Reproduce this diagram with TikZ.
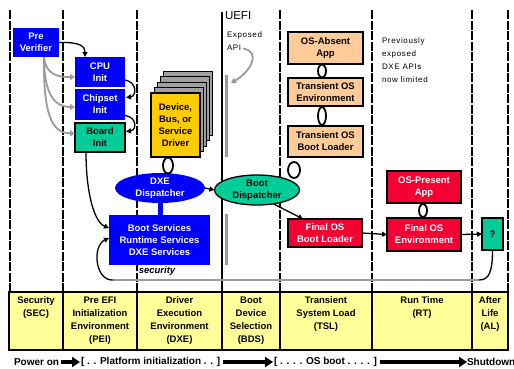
\documentclass[tikz,border=0pt]{standalone}
\usepackage{fontspec}
\setmainfont{Liberation Sans}
\newfontfamily\spacedsans[LetterSpace=8]{Liberation Sans}
\usetikzlibrary{arrows.meta,shapes.geometric,calc}
\definecolor{uefiblue}{RGB}{0,0,255}
\definecolor{uefired}{RGB}{245,0,50}
\definecolor{uefigreen}{RGB}{0,204,153}
\definecolor{uefiorange}{RGB}{255,204,153}
\definecolor{uefiyellow}{RGB}{255,204,0}
\definecolor{tableyellow}{RGB}{255,255,153}
\definecolor{stackgray}{RGB}{160,160,160}
\definecolor{linegray}{RGB}{155,155,155}
\newcommand\bxfont{\bfseries\fontsize{9.5}{12}\selectfont}
\newcommand\tblfont{\bfseries\fontsize{9.5}{13}\selectfont}
\newcommand\notefont{\spacedsans\fontsize{8}{13}\selectfont}
\newcommand\btmfont{\bfseries\fontsize{10}{12}\selectfont}
\begin{document}
\begin{tikzpicture}[x=1pt,y=-1pt,
  every node/.style={inner sep=0pt,outer sep=0pt},
  phase/.style={line width=2pt, dash pattern=on 9pt off 1.5pt},
  bluebox/.style={rectangle, fill=uefiblue, text=white, font=\bxfont, align=center},
  greenbox/.style={rectangle, fill=uefigreen, draw=black, line width=1.3pt, font=\bxfont, align=center},
  orangebox/.style={rectangle, fill=uefiorange, draw=black, line width=1.5pt, font=\bxfont, align=center},
  redbox/.style={rectangle, fill=uefired, draw=black, line width=1.3pt, text=white, font=\bxfont, align=center},
  drvbox/.style={rectangle, fill=uefiyellow, draw=black, line width=1.3pt, font=\bxfont, align=center},
  stackbox/.style={fill=stackgray, draw=black, line width=1pt},
  blk/.style={draw=black, line width=1.3pt, -{Triangle[length=5pt,width=5pt]}},
  gry/.style={draw=linegray, line width=1.8pt, -{Triangle[length=5pt,width=6pt]}},
  loopln/.style={draw=black, line width=1.8pt},
  tbl/.style={font=\tblfont, align=center, anchor=north},
  btm/.style={font=\btmfont, anchor=west},
  fat/.style={draw=black, line width=4pt, -{Triangle[length=8pt,width=10pt]}},
]
\useasboundingbox (0,0) rectangle (514,368);
\fill[white] (0,0) rectangle (514,368);

% phase separators
\foreach \x in {10,63,137,280,372,472,508} \draw[phase] (\x,10) -- (\x,292);
\draw[line width=1.6pt] (222,12) -- (222,292);

% exposed API bar
\fill[linegray] (224.5,75) rectangle (228,157);
\fill[linegray] (224.5,214) rectangle (228,265);

% phase table
\fill[tableyellow] (9,292) rectangle (508,350);
\draw[line width=1.5pt] (9,292) rectangle (508,350);
\foreach \x in {63,137,222,280,372,472} \draw[line width=1.5pt] (\x,292) -- (\x,350);

% gray return line
\coordinate (retL) at (113,280);
\coordinate (retR) at (479,280);
\draw[linegray, line width=1.5pt] (retL) -- (retR);

% stacked drivers
\foreach \i in {4,3,2,1} \draw[stackbox] (151+3*\i,93-5.5*\i) rectangle +(49,64);

% blue stem
\draw[uefiblue, line width=5pt] (160,200) -- (160,216);

% nodes
\node[bluebox, minimum width=46pt, minimum height=29pt] (prever) at (36,42.5) {Pre\\Verifier};
\node[bluebox, minimum width=50pt, minimum height=30pt] (cpu) at (100,72) {CPU\\Init};
\node[bluebox, minimum width=50pt, minimum height=31pt] (chipset) at (100,104.5) {Chipset\\Init};
\node[greenbox, minimum width=50pt, minimum height=29pt] (board) at (100,137.5) {Board\\Init};
\node[drvbox, minimum width=49pt, minimum height=64pt] (driver) at (175.5,125) {Device,\\Bus, or\\Service\\Driver};
\node[ellipse, fill=uefiblue, text=white, font=\bxfont, align=center, minimum width=90pt, minimum height=30pt] (dxedisp) at (160,188) {DXE\\Dispatcher};
\node[bluebox, minimum width=101pt, minimum height=50pt] (bootsvc) at (159.5,240) {Boot Services\\Runtime Services\\DXE Services};
\node[ellipse, fill=uefigreen, draw=black, line width=1.3pt, font=\bxfont, align=center, minimum width=85pt, minimum height=30pt] (bootdisp) at (257,190) {Boot\\Dispatcher};
\node[orangebox, minimum width=75pt, minimum height=32pt] (osabsent) at (325.5,48) {OS-Absent\\App};
\node[orangebox, minimum width=75pt, minimum height=28pt] (tosenv) at (325.5,92) {Transient OS\\Environment};
\node[orangebox, minimum width=75pt, minimum height=31pt] (tosbl) at (325.5,141.5) {Transient OS\\Boot Loader};
\node[redbox, minimum width=74pt, minimum height=28pt] (finalbl) at (325,233) {Final OS\\Boot Loader};
\node[redbox, minimum width=74pt, minimum height=32pt] (ospresent) at (424,187) {OS-Present\\App};
\node[redbox, minimum width=74pt, minimum height=33pt] (finalenv) at (424,234.5) {Final OS\\Environment};
\node[greenbox, minimum width=21pt, minimum height=32pt] (q) at (492.5,234) {?};

% texts
\node[font=\fontsize{11.5}{12}\selectfont, anchor=west] (uefi) at (225,16) {UEFI};
\node[font=\notefont, anchor=west] (exposed) at (227,35) {Exposed};
\node[font=\notefont, anchor=west] (apitxt) at (227,47.5) {API};
\node[font=\notefont, align=left, anchor=north west] (prev) at (382,38) {Previously\\exposed\\DXE APIs\\now limited};
\node[font=\bfseries\itshape\fontsize{9.5}{11}\selectfont] (secur) at (157,271) {security};

% table texts
\node[tbl] (sec) at (36,296.5) {Security\\(SEC)};
\node[tbl] (pei) at (100,296.5) {Pre EFI\\Initialization\\Environment\\(PEI)};
\node[tbl] (dxe) at (179.5,296.5) {Driver\\Execution\\Environment\\(DXE)};
\node[tbl] (bds) at (251,296.5) {Boot\\Device\\Selection\\(BDS)};
\node[tbl] (tsl) at (326,296.5) {Transient\\System Load\\(TSL)};
\node[tbl] (rt) at (422,296.5) {Run Time\\(RT)};
\node[tbl] (al) at (490,296.5) {After\\Life\\(AL)};

% bottom line
\node[btm] (pon) at (14,362) {Power on};
\node[btm] (plat) at (81,362) {[ . . Platform initialization . . ]};
\node[btm] (osb) at (274,362) {[ . . . . OS boot . . . . ]};
\node[btm] (sd) at (467,362) {Shutdown};
\draw[fat] ($(pon.east)+(2,0)$) -- ($(plat.west)+(-1,0)$);
\draw[fat] ($(plat.east)+(3,0)$) -- ($(osb.west)+(-1,0)$);
\draw[fat] ($(osb.east)+(3,0)$) -- ($(sd.west)+(0,0)$);

% PEI connectors
\draw[blk] (prever.east) .. controls (80,42) and (85,46) .. ($(cpu.north)+(-15,0)$);
\draw[gry] ($(prever.south)+(8,0)$) .. controls (46,75) and (58,77) .. ($(cpu.west)+(0,5)$);
\draw[gry] ($(prever.south)+(8,0)$) .. controls (44,95) and (55,107) .. ($(chipset.west)+(0,2.5)$);
\draw[gry] ($(prever.south)+(8,0)$) .. controls (43,122) and (55,133) .. ($(board.west)+(0,-4)$);
\draw[blk] ($(cpu.east)+(0,8)$) .. controls (137,82) and (137,96) .. ($(chipset.east)+(1,-7)$);
\draw[blk] ($(chipset.east)+(0,11)$) .. controls (137,117) and (137,130) .. ($(board.east)+(1,-6)$);
\draw[blk] ($(board.south)+(-14,0)$) .. controls (86,192) and (94,222) .. ($(bootsvc.west)+(0,-12)$);
\draw[blk] (retL) .. controls (95,281) and (92,246) .. ($(bootsvc.west)+(0,-2)$);
\draw[black, line width=1.3pt] (q.south) .. controls (492.5,272) and (489,280) .. (retR);

% DXE / BDS connectors
\draw[blk] (dxedisp.east) -- (bootdisp.west);
\draw[blk] (bootdisp.-40) -- ($(finalbl.north west)+(15,0)$);
\draw[blk] (finalbl.east) -- (finalenv.west);
\draw[blk] (finalenv.east) -- (q.west);
\draw[gry] ($(apitxt.east)+(2,1)$) .. controls (262,52) and (250,72) .. (231,83);

% loops
\draw[loopln] ($(driver.south)+(-7.5,8.5)$) ellipse [x radius=5pt, y radius=8pt];
\draw[loopln] ($(osabsent.south)+(-3.5,7)$) ellipse [x radius=4pt, y radius=6.5pt];
\draw[loopln] ($(tosenv.south)+(-3.5,10)$) ellipse [x radius=4pt, y radius=9pt];
\draw[loopln] ($(tosbl.south west)+(6,13)$) ellipse [x radius=6pt, y radius=8pt];
\draw[loopln] ($(ospresent.south)+(-1,7.5)$) ellipse [x radius=4pt, y radius=6.5pt];
\end{tikzpicture}
\end{document}
